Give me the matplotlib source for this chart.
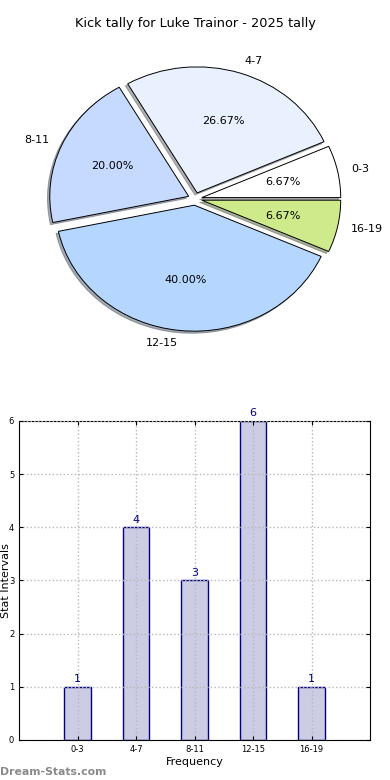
import matplotlib
matplotlib.use("Agg")
import matplotlib.pyplot as plt

intervals = ["0-3", "4-7", "8-11", "12-15", "16-19"]
counts = [1, 4, 3, 6, 1]
pie_colors = ["#ffffff", "#e9f1ff", "#c6d9ff", "#b5d6ff", "#ceea8b"]

fig = plt.figure(figsize=(3.9, 7.8), dpi=100)

# pie panel
ax1 = fig.add_axes([0.037, 0.535, 0.926, 0.42])
ax1.pie(counts, labels=intervals, colors=pie_colors, autopct="%1.2f%%",
        explode=[0.05] * len(counts),
        shadow={"ox": -0.012, "oy": -0.012, "shade": 0.6}, startangle=0,
        wedgeprops=dict(edgecolor="black", linewidth=0.7),
        textprops=dict(fontsize=8))
ax1.set_aspect("auto")
ax1.set_xlim(-1.3, 1.3)
ax1.set_ylim(-1.3, 1.3)
ax1.set_title("Kick tally for Luke Trainor - 2025 tally", fontsize=9.3)

# bar panel
ax2 = fig.add_axes([0.049, 0.0513, 0.9, 0.409])
x = list(range(len(intervals)))
bars = ax2.bar(x, counts, width=0.45, color="#ccccE5", edgecolor="#000080",
               linewidth=1.0)
for b, v in zip(bars, counts):
    ax2.text(b.get_x() + b.get_width() / 2, v + 0.05, str(v), ha="center",
             va="bottom", color="#000080", fontsize=8)
ax2.set_xlim(-1, 5)
ax2.set_ylim(0, 6)
ax2.set_xticks(x)
ax2.set_xticklabels(intervals)
ax2.tick_params(labelsize=6, direction="in", top=True, right=True, length=3)
ax2.grid(True, linestyle=":", color="#b8b8b8", linewidth=1.0)
ax2.set_axisbelow(False)
ax2.set_xlabel("Frequency", fontsize=8, labelpad=2)
ax2.set_ylabel("Stat Intervals", fontsize=8)
ax2.yaxis.set_label_coords(-0.022, 0.5)

fig.text(0.0, 0.004, "Dream-Stats.com", fontsize=7.8, color="#8a8a8a",
         fontweight="bold", ha="left", va="bottom")

fig.savefig("out.png", dpi=100)
